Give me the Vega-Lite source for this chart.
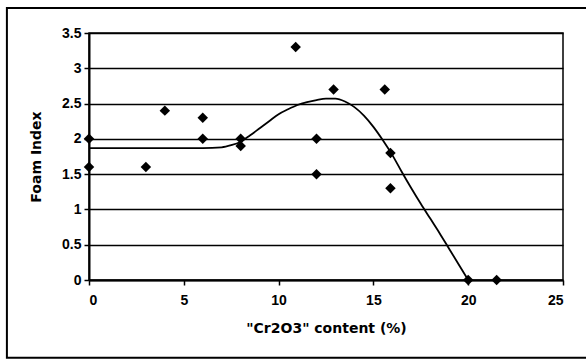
{
  "$schema": "https://vega.github.io/schema/vega-lite/v6.json",
  "width": 474,
  "height": 247,
  "autosize": {"type": "none"},
  "padding": {"left": 89, "top": 33, "right": 23, "bottom": 80},
  "background": "white",
  "config": {
    "view": {"stroke": "black", "strokeWidth": 1.5},
    "font": "Liberation Sans",
    "axis": {
      "domainColor": "black", "domainWidth": 2,
      "tickColor": "black", "tickWidth": 1.5, "tickSize": 5,
      "labelColor": "black", "labelFont": "Liberation Sans", "labelFontWeight": 700, "labelFontSize": 14,
      "titleColor": "black", "titleFont": "DejaVu Sans", "titleFontWeight": 700, "titleFontSize": 14
    }
  },
  "datasets": {
    "points": [
      {"content": 0, "foam": 2.0},
      {"content": 0, "foam": 1.6},
      {"content": 3, "foam": 1.6},
      {"content": 4, "foam": 2.4},
      {"content": 6, "foam": 2.3},
      {"content": 6, "foam": 2.0},
      {"content": 8, "foam": 2.0},
      {"content": 8, "foam": 1.9},
      {"content": 10.9, "foam": 3.3},
      {"content": 12.9, "foam": 2.7},
      {"content": 12, "foam": 2.0},
      {"content": 12, "foam": 1.5},
      {"content": 15.6, "foam": 2.7},
      {"content": 15.9, "foam": 1.8},
      {"content": 15.9, "foam": 1.3},
      {"content": 20, "foam": 0},
      {"content": 21.5, "foam": 0}
    ],
    "curve": [
      {"content": 0, "foam": 1.87},
      {"content": 6, "foam": 1.87},
      {"content": 7, "foam": 1.88},
      {"content": 7.5, "foam": 1.91},
      {"content": 8, "foam": 1.96},
      {"content": 8.5, "foam": 2.05},
      {"content": 9, "foam": 2.15},
      {"content": 9.5, "foam": 2.25},
      {"content": 10, "foam": 2.35},
      {"content": 10.5, "foam": 2.42},
      {"content": 11, "foam": 2.48},
      {"content": 11.5, "foam": 2.52},
      {"content": 12, "foam": 2.55},
      {"content": 12.5, "foam": 2.57},
      {"content": 13, "foam": 2.57},
      {"content": 13.5, "foam": 2.53},
      {"content": 14, "foam": 2.45},
      {"content": 14.5, "foam": 2.33},
      {"content": 15, "foam": 2.17},
      {"content": 15.5, "foam": 1.98},
      {"content": 16, "foam": 1.77},
      {"content": 16.5, "foam": 1.53},
      {"content": 17, "foam": 1.3},
      {"content": 17.5, "foam": 1.08},
      {"content": 18, "foam": 0.87},
      {"content": 18.5, "foam": 0.66},
      {"content": 19, "foam": 0.44},
      {"content": 19.5, "foam": 0.22},
      {"content": 20, "foam": 0}
    ]
  },
  "layer": [
    {
      "data": {"name": "curve"},
      "mark": {"type": "line", "color": "black", "strokeWidth": 1.8, "interpolate": "monotone"},
      "encoding": {
        "x": {"field": "content", "type": "quantitative", "scale": {"domain": [0, 25], "nice": false},
          "axis": {"values": [0, 5, 10, 15, 20, 25], "grid": false, "title": "\"Cr2O3\" content (%)", "labelPadding": 8, "titlePadding": 14}},
        "y": {"field": "foam", "type": "quantitative", "scale": {"domain": [0, 3.5], "nice": false},
          "axis": {"values": [0, 0.5, 1, 1.5, 2, 2.5, 3, 3.5], "format": "~g", "labelOverlap": false, "grid": true, "gridColor": "black", "gridWidth": 1.5, "gridOpacity": 1, "title": "Foam Index", "labelPadding": 3, "titlePadding": 18}}
      }
    },
    {
      "data": {"name": "points"},
      "mark": {"type": "point", "shape": "diamond", "filled": true, "color": "black", "opacity": 1, "size": 110},
      "encoding": {
        "x": {"field": "content", "type": "quantitative",
          "axis": {"values": [0, 5, 10, 15, 20, 25], "grid": false, "title": "\"Cr2O3\" content (%)", "labelPadding": 8, "titlePadding": 14}},
        "y": {"field": "foam", "type": "quantitative",
          "axis": {"values": [0, 0.5, 1, 1.5, 2, 2.5, 3, 3.5], "format": "~g", "labelOverlap": false, "grid": true, "gridColor": "black", "gridWidth": 1.5, "gridOpacity": 1, "title": "Foam Index", "labelPadding": 3, "titlePadding": 18}}
      }
    },
    {
      "data": {"values": [{}]},
      "mark": {"type": "rect", "fill": null, "fillOpacity": 0, "stroke": "black", "strokeWidth": 2, "clip": false},
      "encoding": {
        "x": {"datum": -4.33, "type": "quantitative",
          "axis": {"values": [0, 5, 10, 15, 20, 25], "grid": false, "title": "\"Cr2O3\" content (%)", "labelPadding": 8, "titlePadding": 14}},
        "x2": {"datum": 26.5},
        "y": {"datum": 3.855, "type": "quantitative",
          "axis": {"values": [0, 0.5, 1, 1.5, 2, 2.5, 3, 3.5], "format": "~g", "labelOverlap": false, "grid": true, "gridColor": "black", "gridWidth": 1.5, "gridOpacity": 1, "title": "Foam Index", "labelPadding": 3, "titlePadding": 18}},
        "y2": {"datum": -1.1}
      }
    }
  ]
}
